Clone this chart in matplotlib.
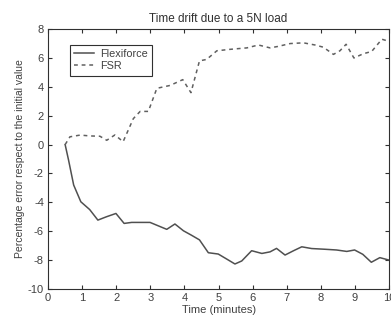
import numpy as np
import matplotlib
matplotlib.use('Agg')
import matplotlib.pyplot as plt

# Flexiforce drift (% error vs time in minutes)
t_flex = [0.5, 0.6, 0.75, 0.96, 1.22, 1.46, 1.71, 1.99, 2.23, 2.45, 2.99, 3.48, 3.72,
          3.97, 4.2, 4.44, 4.7, 4.99, 5.24, 5.48, 5.68, 5.97, 6.27, 6.51, 6.7, 6.95,
          7.2, 7.44, 7.73, 8.12, 8.46, 8.76, 8.99, 9.23, 9.48, 9.73, 10.0]
e_flex = [0.0, -1.07, -2.8, -3.96, -4.5, -5.23, -5.0, -4.77, -5.46, -5.39, -5.39, -5.87, -5.5,
          -5.97, -6.27, -6.6, -7.49, -7.58, -7.93, -8.27, -8.06, -7.35, -7.54, -7.43, -7.19, -7.65,
          -7.35, -7.08, -7.2, -7.25, -7.3, -7.4, -7.3, -7.6, -8.15, -7.83, -8.0]

# FSR drift
t_fsr = [0.5, 0.64, 0.94, 1.23, 1.52, 1.72, 1.96, 2.2, 2.5, 2.7, 2.94, 3.19, 3.58, 3.95,
         4.19, 4.44, 4.65, 4.95, 5.34, 5.83, 6.17, 6.51, 6.74, 7.1, 7.49, 7.83, 8.07, 8.37,
         8.56, 8.74, 8.97, 9.25, 9.49, 9.79, 10.0]
e_fsr = [0.0, 0.54, 0.66, 0.6, 0.58, 0.3, 0.67, 0.2, 1.8, 2.3, 2.3, 3.9, 4.1, 4.5,
         3.6, 5.8, 5.9, 6.5, 6.6, 6.7, 6.9, 6.7, 6.8, 7.0, 7.05, 6.9, 6.75, 6.25,
         6.5, 6.95, 6.0, 6.3, 6.45, 7.3, 7.15]

plt.rcParams['font.family'] = ['Liberation Sans', 'DejaVu Sans']
plt.rcParams['font.size'] = 7.5
plt.rcParams['axes.unicode_minus'] = False

fig = plt.figure(figsize=(3.91, 3.2), dpi=100)
ax = fig.add_axes([0.123, 0.097, 0.872, 0.812])

ax.plot(t_flex, e_flex, '-', color='#505050', lw=1.1, label='Flexiforce')
ax.plot(t_fsr, e_fsr, '--', color='#606060', lw=1.1, dashes=(2.5, 2.5), label='FSR')

ax.set_xlim(0, 10)
ax.set_ylim(-10, 8)
ax.set_xticks(range(0, 11))
ax.set_yticks(range(-10, 9, 2))
ax.tick_params(direction='in', top=True, right=True, length=3, colors='#303030',
               labelcolor='#404040', pad=3, labelsize=8)
for s in ax.spines.values():
    s.set_color('#303030')
    s.set_linewidth(0.8)

ax.set_title('Time drift due to a 5N load', color='#303030', fontsize=8.5, pad=5)
ax.set_xlabel('Time (minutes)', color='#404040', labelpad=1, fontsize=8)
ax.set_ylabel('Percentage error respect to the initial value', color='#404040', labelpad=2)

leg = ax.legend(loc='upper left', bbox_to_anchor=(0.064, 0.94), fancybox=False,
                edgecolor='#303030', framealpha=1, handlelength=1.8, borderpad=0.4,
                labelspacing=0.2, handletextpad=0.6, borderaxespad=0, fontsize=7.8)
leg.get_frame().set_linewidth(0.8)
for txt in leg.get_texts():
    txt.set_color('#404040')

fig.savefig('out.png', dpi=100)
